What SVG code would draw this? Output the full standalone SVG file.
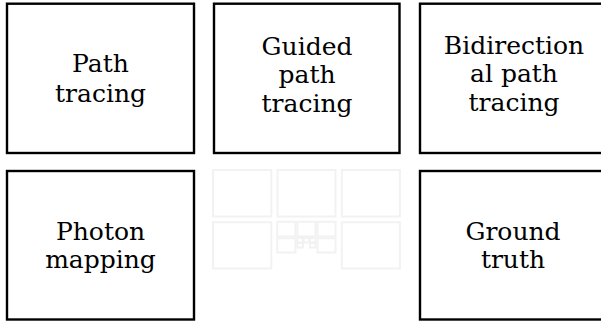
<svg xmlns="http://www.w3.org/2000/svg" xmlns:xlink="http://www.w3.org/1999/xlink" width="601" height="321" viewBox="0 0 601 321">
  <style>
    .box { fill: #ffffff; stroke: #000000; stroke-width: 2.4; }
    .mini { fill: none; stroke: #f2f2f2; stroke-width: 2; vector-effect: non-scaling-stroke; }
    .lbl { font-family: "DejaVu Serif", "Liberation Serif", serif; font-size: 25px; fill: #000000; text-anchor: middle; }
  </style>
  <defs>
    <g id="thumb">
      <rect class="mini" x="7" y="3.7" width="187" height="149.3"/>
      <rect class="mini" x="214" y="3.7" width="185.5" height="149.3"/>
      <rect class="mini" x="420" y="3.7" width="186" height="149.3"/>
      <rect class="mini" x="7" y="171" width="187" height="148.5"/>
      <rect class="mini" x="420" y="171" width="186" height="148.5"/>
    </g>
  </defs>
  <rect x="0" y="0" width="601" height="321" fill="#ffffff"/>

  <g id="thumbnail">
    <use xlink:href="#thumb" href="#thumb" transform="translate(210.8,168.8) scale(0.312)"/>
    <use xlink:href="#thumb" href="#thumb" transform="translate(276.6,221.5) scale(0.0973)"/>
    <use xlink:href="#thumb" href="#thumb" transform="translate(297.1,237.9) scale(0.0304)"/>
  </g>

  <g id="path-tracing">
    <rect class="box" x="7" y="3.7" width="187" height="149.3"/>
    <text class="lbl" x="100.5" y="72.3">Path</text>
    <text class="lbl" x="100.5" y="101.7">tracing</text>
  </g>

  <g id="guided-path-tracing">
    <rect class="box" x="214" y="3.7" width="185.5" height="149.3"/>
    <text class="lbl" x="307" y="55">Guided</text>
    <text class="lbl" x="307" y="83.3">path</text>
    <text class="lbl" x="307" y="111.7">tracing</text>
  </g>

  <g id="bidirectional-path-tracing">
    <rect class="box" x="420" y="3.7" width="186" height="149.3"/>
    <text class="lbl" x="514" y="54">Bidirection</text>
    <text class="lbl" x="514" y="82.3">al path</text>
    <text class="lbl" x="514" y="111">tracing</text>
  </g>

  <g id="photon-mapping">
    <rect class="box" x="7" y="171" width="187" height="148.5"/>
    <text class="lbl" x="100.5" y="240">Photon</text>
    <text class="lbl" x="100.5" y="268">mapping</text>
  </g>

  <g id="ground-truth">
    <rect class="box" x="420" y="171" width="186" height="148.5"/>
    <text class="lbl" x="513" y="240">Ground</text>
    <text class="lbl" x="513" y="268">truth</text>
  </g>

  <g id="connectors"/>
</svg>
